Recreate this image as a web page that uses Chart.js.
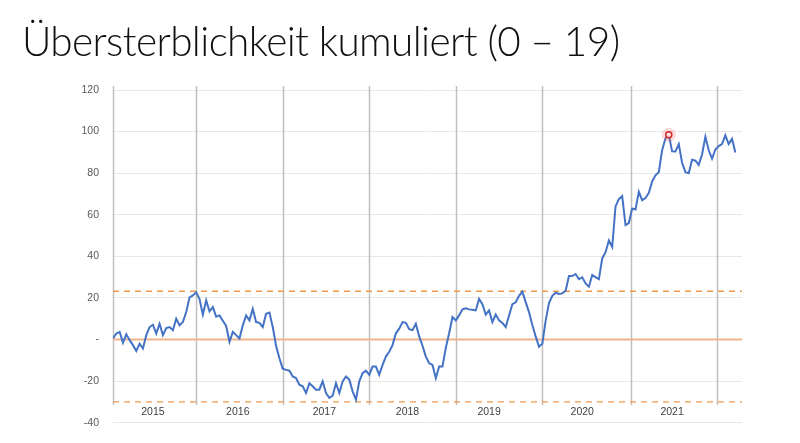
<!DOCTYPE html>
<html><head><meta charset="utf-8">
<script src="https://cdn.jsdelivr.net/npm/chart.js@4.4.0/dist/chart.umd.min.js"></script>
<style>
html,body{margin:0;padding:0;background:#fff;}
#wrap{position:relative;width:800px;height:443px;overflow:hidden;}
#title{position:absolute;left:22px;top:17px;font-family:Lato,'Open Sans',sans-serif;font-weight:300;font-size:40.5px;letter-spacing:-0.6px;line-height:48px;color:#111;white-space:nowrap;}
canvas{position:absolute;left:0;top:0;}
</style></head><body>
<div id="wrap"><canvas id="c" width="800" height="443"></canvas><div id="title"></div></div>
<script>
const chartTitle = 'Übersterblichkeit kumuliert (0 – 19)';
const years = ['2015','2016','2017','2018','2019','2020','2021'];
const yearLabelWeeks = [24, 75, 127, 177, 226, 282, 336];
const yearStartWeeks = [0, 50, 102, 154, 206, 258, 311, 363];
const weekStep = 2;
const values = [
  0.5, 2.9, 3.7, -1.5, 2.5, -0.3, -2.7, -5.5, -2.0, -4.3,
  2.1, 6.0, 7.1, 2.9, 7.6, 2.1, 5.5, 6.0, 4.5, 10.0,
  6.8, 8.4, 13.2, 20.3, 21.2, 22.7, 19.5, 12.0, 18.8, 13.5,
  15.6, 11.0, 11.6, 9.0, 6.5, -1.1, 3.7, 2.1, 0.5, 6.8,
  11.6, 9.2, 14.8, 8.4, 8.0, 6.0, 12.4, 13.0, 6.0, -3.0,
  -9.0, -14.0, -14.6, -15.0, -17.8, -18.5, -21.7, -22.5, -25.7, -21.0,
  -22.5, -24.1, -24.1, -20.1, -25.7, -28.1, -27.0, -21.0, -25.7, -20.1,
  -17.8, -19.3, -24.9, -28.9, -20.1, -16.2, -15.0, -17.0, -13.0, -13.0,
  -17.0, -12.2, -8.2, -5.9, -2.7, 3.0, 5.2, 8.4, 8.0, 5.0,
  4.5, 7.6, 1.5, -3.0, -8.2, -11.4, -12.2, -18.6, -13.0, -13.0,
  -4.0, 3.0, 10.8, 9.2, 11.6, 14.5, 15.0, 14.5, 14.3, 14.0,
  19.5, 17.0, 12.0, 14.0, 8.4, 12.0, 9.2, 8.0, 6.0, 11.6,
  17.0, 17.9, 21.0, 23.0, 18.0, 13.2, 7.0, 1.5, -3.5, -2.0,
  9.0, 17.5, 21.0, 22.5, 21.9, 22.2, 23.5, 30.5, 30.5, 31.5,
  29.0, 29.9, 27.0, 25.4, 31.0, 30.0, 29.0, 39.0, 42.0, 47.6,
  44.5, 64.0, 67.5, 69.0, 55.0, 56.0, 63.0, 62.5, 71.0, 67.0,
  68.0, 70.5, 76.0, 79.0, 80.5, 91.0, 96.7, 98.5, 90.5, 90.4,
  94.0, 85.0, 80.5, 80.0, 86.5, 86.0, 84.0, 89.0, 97.5, 91.0,
  87.0, 91.4, 93.0, 94.0, 98.2, 94.0, 96.5, 89.9
];
const highlightIndex = 167;
const refZero = 0;
const refUpper = 23.2;
const refLower = -30;
const yMin = -40, yMax = 120, yStep = 20;
const xMax = 378;

document.getElementById('title').textContent = chartTitle;

const series = values.map((v, i) => ({x: i * weekStep, y: v}));
const hl = [{x: highlightIndex * weekStep, y: values[highlightIndex]}];
const hline = v => [{x: 0, y: v}, {x: xMax, y: v}];

const separators = {
  id: 'separators',
  beforeDatasetsDraw(chart) {
    const xs = chart.scales.x, ys = chart.scales.y, ctx = chart.ctx;
    ctx.save();
    ctx.strokeStyle = '#BFBFBF';
    ctx.lineWidth = 1.5;
    const yTop = ys.getPixelForValue(yMax) - 4;
    const yBot = ys.getPixelForValue(refLower) + 3;
    for (const w of yearStartWeeks) {
      const x = Math.round(xs.getPixelForValue(w)) + 0.5;
      ctx.beginPath(); ctx.moveTo(x, yTop); ctx.lineTo(x, yBot); ctx.stroke();
    }
    ctx.restore();
  }
};

new Chart(document.getElementById('c'), {
  type: 'line',
  data: {
    datasets: [
      {data: hl, showLine: false, pointRadius: 3, pointBorderWidth: 1.5,
       pointBorderColor: '#D02828', pointBackgroundColor: '#FBE3E3', pointHoverRadius: 3},
      {data: hl, showLine: false, pointRadius: 7, pointBorderWidth: 0,
       pointBackgroundColor: 'rgba(235,90,90,0.22)', pointBorderColor: 'rgba(0,0,0,0)'},
      {data: series, borderColor: '#4472C4', borderWidth: 2, pointRadius: 0, tension: 0},
      {data: hline(refZero), borderColor: '#EFB38A', borderWidth: 2, pointRadius: 0},
      {data: hline(refUpper), borderColor: '#EE9A4D', borderWidth: 1.4, borderDash: [6, 5], pointRadius: 0},
      {data: hline(refLower), borderColor: '#EE9A4D', borderWidth: 1.4, borderDash: [6, 5], pointRadius: 0}
    ]
  },
  options: {
    responsive: false,
    animation: false,
    devicePixelRatio: 1,
    layout: {padding: {top: 90, right: 58, bottom: 11, left: 0}},
    plugins: {legend: {display: false}, tooltip: {enabled: false}, title: {display: false}},
    scales: {
      x: {
        type: 'linear', min: 0, max: xMax,
        position: {y: refLower},
        afterFit(scale) { scale.height = 0; },
        grid: {display: false, drawTicks: false},
        border: {display: false},
        afterBuildTicks(scale) { scale.ticks = yearLabelWeeks.map(v => ({value: v})); },
        ticks: {
          autoSkip: false, maxRotation: 0, padding: 4,
          color: '#404040',
          font: {family: "'Liberation Sans', Arial, sans-serif", size: 10.5},
          callback: (val, idx) => years[idx]
        }
      },
      y: {
        min: yMin, max: yMax,
        afterFit(scale) { scale.width = 113; },
        grid: {color: '#E8E8E8', lineWidth: 1, drawTicks: false},
        border: {display: false},
        ticks: {
          stepSize: yStep, padding: 14,
          color: '#595959',
          font: {family: "'Liberation Sans', Arial, sans-serif", size: 10.5},
          callback: v => (v === 0 ? '-' : v)
        }
      }
    }
  },
  plugins: [separators]
});
</script>
</body></html>
